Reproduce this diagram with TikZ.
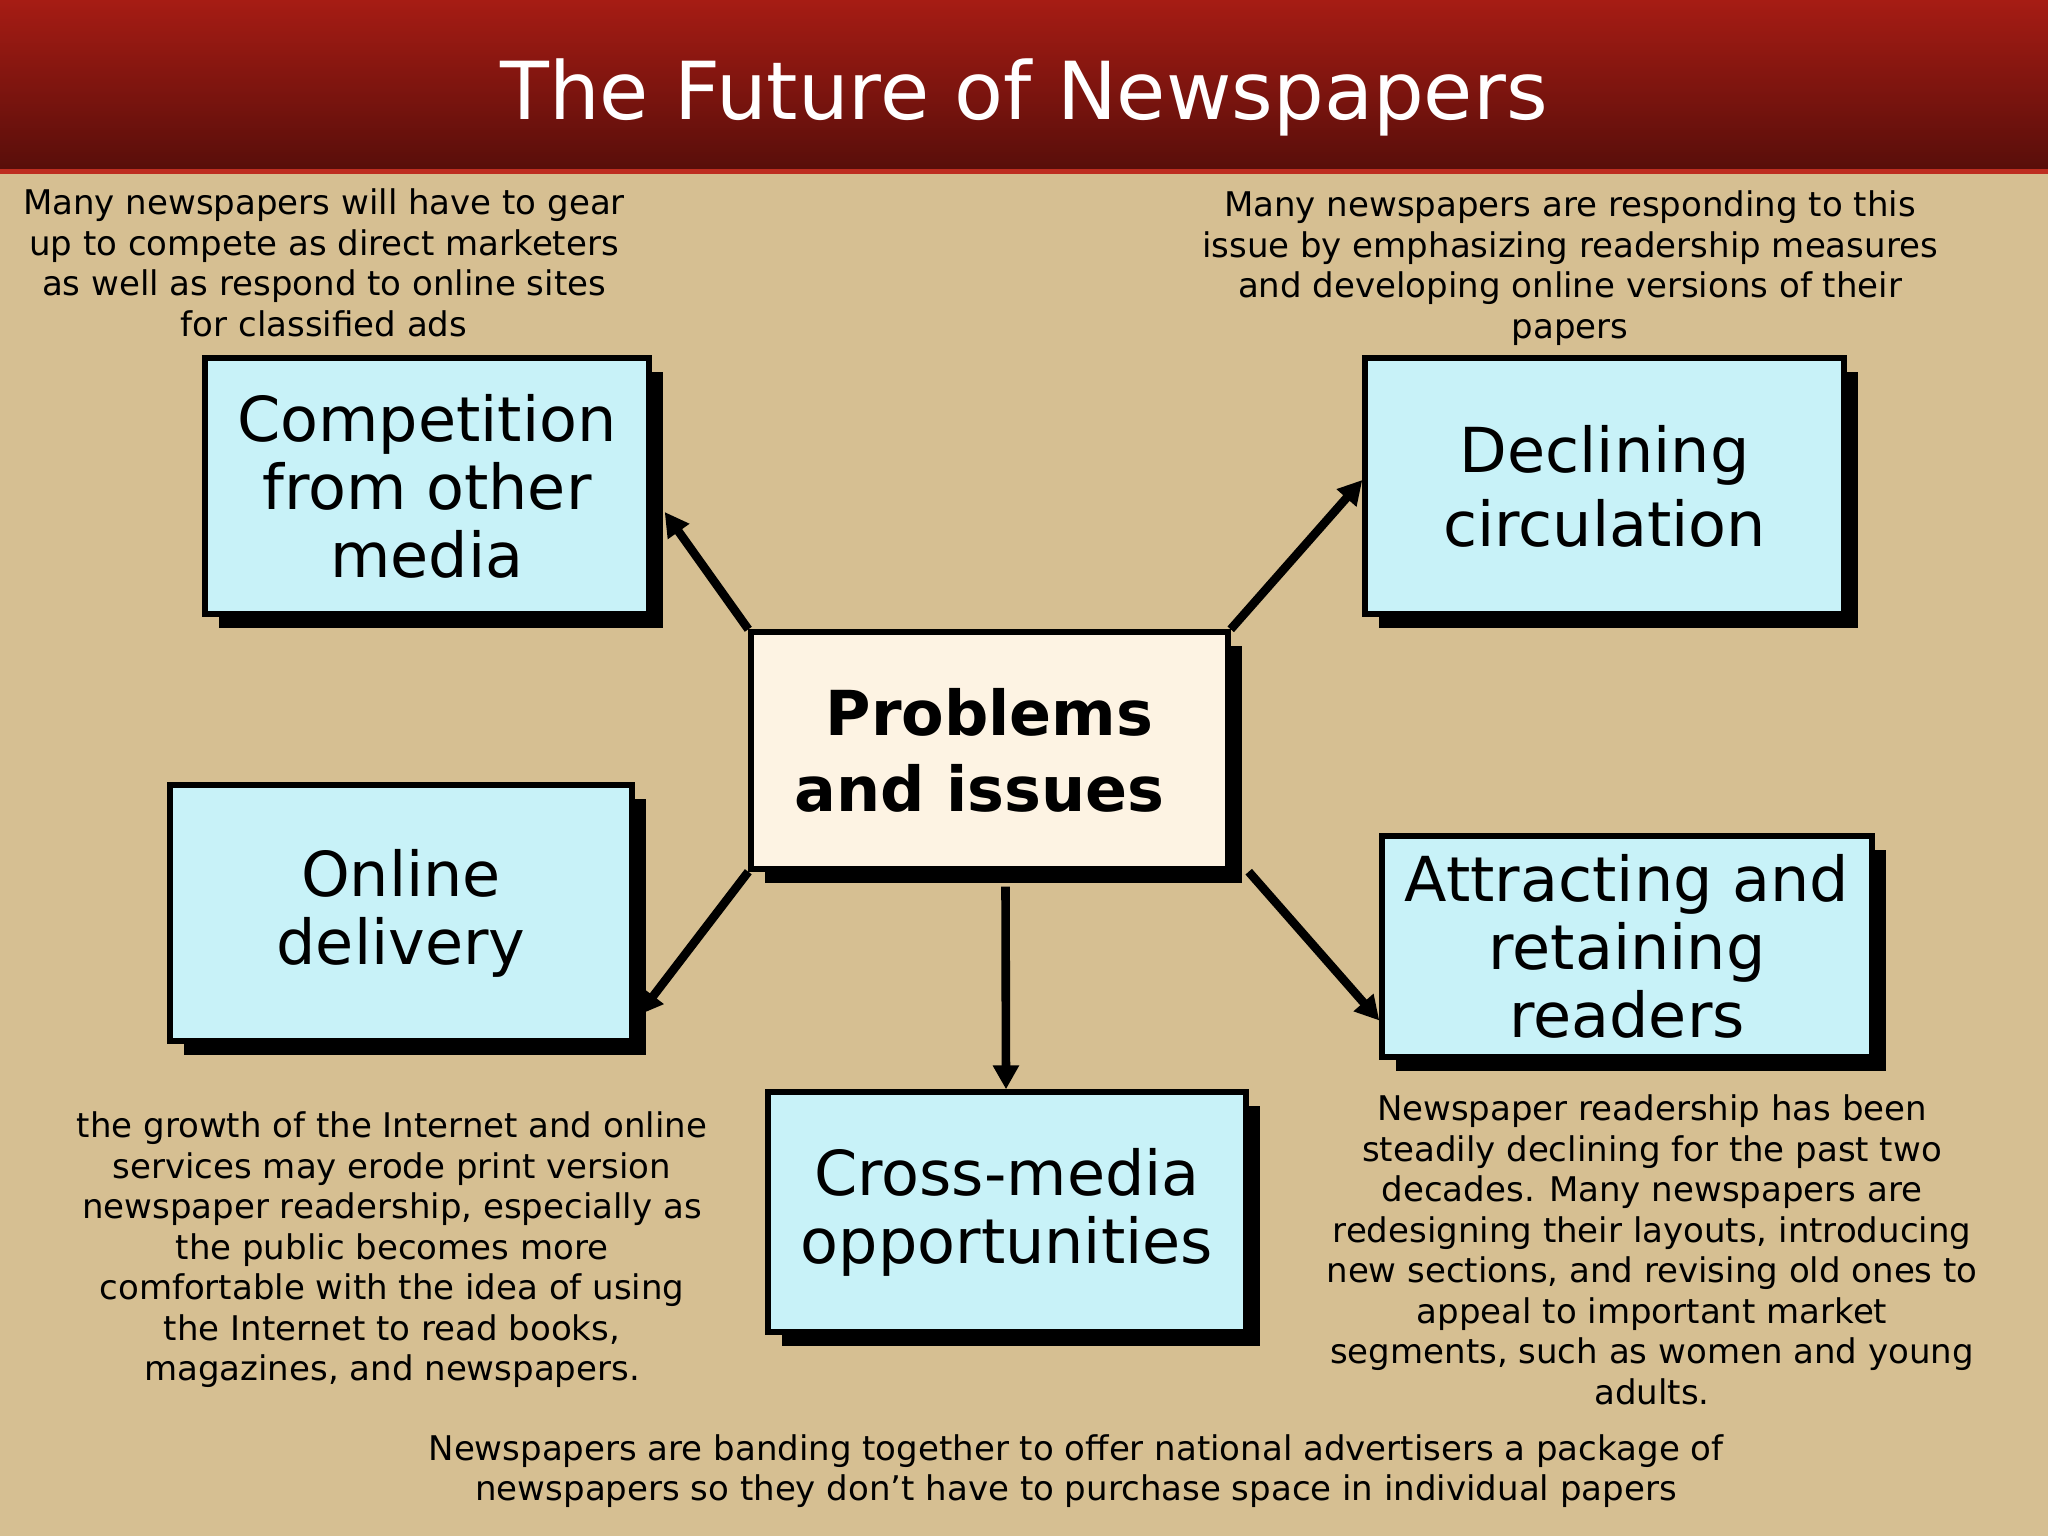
\documentclass[tikz,border=0pt]{standalone}
\usepackage{fontspec}
\setmainfont{DejaVu Sans}
\usetikzlibrary{arrows.meta,calc}
\definecolor{bg}{RGB}{214,191,146}
\definecolor{boxfill}{RGB}{200,242,248}
\definecolor{centerfill}{RGB}{253,243,227}
\definecolor{hdtop}{RGB}{166,28,20}
\definecolor{hdbot}{RGB}{88,14,10}
\definecolor{hdline}{RGB}{190,45,32}
\begin{document}
\begin{tikzpicture}[x=0.5pt,y=-0.5pt,
  boxst/.style={draw=black, line width=2.7pt, fill=boxfill, inner sep=0pt, align=center,
    font=\fontsize{31}{34}\selectfont,
    preaction={fill=black, transform canvas={xshift=7pt,yshift=-7pt}}},
  centerst/.style={boxst, fill=centerfill, font=\fontsize{31}{38}\selectfont\bfseries},
  note/.style={align=center, inner sep=0pt, font=\fontsize{17}{20.25}\selectfont},
  conn/.style={line width=4.3pt, -{Triangle[length=12pt,width=12.5pt]}}]
\useasboundingbox (0,0) rectangle (2048,1536);
\fill[bg] (0,0) rectangle (2048,1536);
\shade[top color=hdtop, bottom color=hdbot] (0,0) rectangle (2048,170);
\fill[hdline] (0,169) rectangle (2048,174);
\node[text=white, inner sep=0pt, font=\fontsize{40}{44}\selectfont] (title) at (1024,97) {The Future of Newspapers};

\node[boxst, minimum width=222pt, minimum height=128pt] (comp) at (427,486) {Competition\\from other\\media};
\node[boxst, minimum width=239.5pt, minimum height=128pt, font=\fontsize{31}{37}\selectfont] (decl) at (1604.5,486) {Declining\\circulation};
\node[centerst, minimum width=238.5pt, minimum height=118.5pt] (center) at (989.5,750.5) {Problems\\and issues\hspace*{10pt}};
\node[boxst, minimum width=231pt, minimum height=128pt] (online) at (401,913) {Online\\delivery};
\node[boxst, minimum width=239pt, minimum height=120pt] (cross) at (1007,1212) {Cross-media\\opportunities};
\node[boxst, minimum width=245pt, minimum height=110.5pt] (attr) at (1627,946.5) {Attracting and\\retaining\\readers};

\node[note] (n1) at (324,263) {Many newspapers will have to gear\\up to compete as direct marketers\\as well as respond to online sites\\for classified ads};
\node[note] (n2) at (1570,268) {Many newspapers are responding to this\\issue by emphasizing readership measures\\and developing online versions of their\\papers};
\node[note] (n3) at (392,1250) {the growth of the Internet and online\\services may erode print version\\newspaper readership, especially as\\the public becomes more\\comfortable with the idea of using\\the Internet to read books,\\magazines, and newspapers.};
\node[note] (n4) at (1652,1250) {Newspaper readership has been\\steadily declining for the past two\\decades. Many newspapers are\\redesigning their layouts, introducing\\new sections, and revising old ones to\\appeal to important market\\segments, such as women and young\\adults.};
\node[note] (n5) at (1076,1471) {Newspapers are banding together to offer national advertisers a package of\\newspapers so they don’t have to purchase space in individual papers};

\draw[conn] (center.north west) -- ([xshift=6.5pt,yshift=-13pt]comp.east);
\draw[conn] (center.north east) -- ([yshift=3pt]decl.west);
\draw[conn] (center.south west) -- ([xshift=2pt,yshift=-51pt]online.east);
\draw[conn] ([xshift=8pt,yshift=-7.5pt]center.south) -- ([xshift=-0.5pt]cross.north);
\draw[conn] ([xshift=9pt]center.south east) -- ([yshift=-37pt]attr.west);
\end{tikzpicture}
\end{document}
